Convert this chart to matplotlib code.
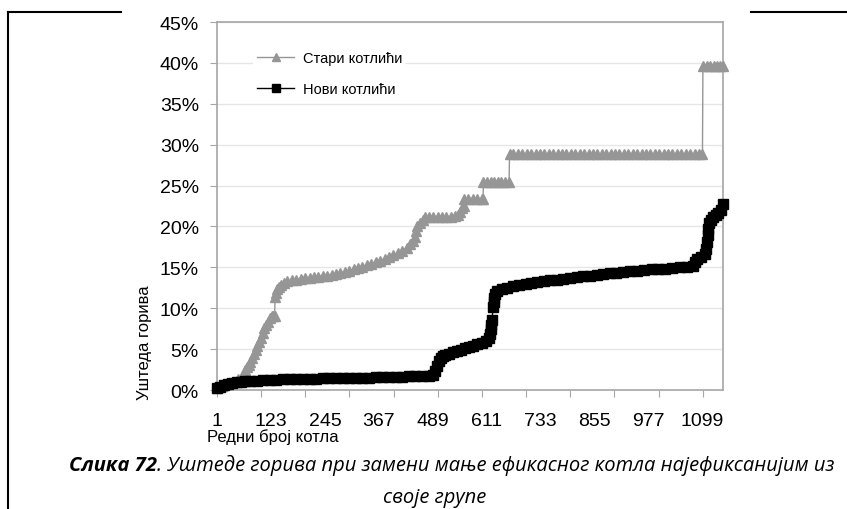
import matplotlib
matplotlib.use("Agg")
import matplotlib.pyplot as plt
from matplotlib.lines import Line2D

W, H = 847, 510

# Стари котлићи: редни број котла и уштеда (%)
old_idx = [1, 12, 24, 36, 48, 56, 61, 64, 68, 72, 76, 80, 84, 88, 92, 96, 100, 104, 108, 112,
           116, 120, 124, 128, 131, 132, 134, 137, 141, 146, 152, 160, 170, 180, 190, 200, 210,
           220, 230, 240, 250, 260, 270, 280, 290, 300, 310, 320, 330, 340, 350, 360, 370, 380,
           390, 400, 410, 420, 430, 438, 444, 448, 451, 454, 460, 466, 472, 480, 490, 500, 510,
           520, 530, 540, 546, 551, 556, 559, 560, 570, 580, 590, 600, 603, 604, 612, 620, 628,
           636, 644, 652, 662, 663, 672, 682, 692, 702, 712, 722, 732, 742, 752, 762, 772, 782,
           792, 802, 812, 822, 832, 842, 852, 862, 872, 882, 892, 902, 912, 922, 932, 942, 952,
           962, 972, 982, 992, 1002, 1012, 1022, 1032, 1042, 1052, 1062, 1072, 1082, 1092, 1100,
           1101, 1110, 1118, 1126, 1134, 1140, 1146]
old_val = [0.3, 0.5, 0.8, 1.0, 1.3, 1.6, 2.0, 2.4, 2.8, 3.0, 3.4, 3.9, 4.4, 4.9, 5.4, 5.9, 6.4,
           7.0, 7.6, 7.9, 8.3, 8.8, 9.0, 9.0, 9.0, 11.4, 11.9, 12.3, 12.6, 12.9, 13.1, 13.3, 13.4,
           13.5, 13.6, 13.7, 13.75, 13.8, 13.85, 13.9, 14.0, 14.1, 14.2, 14.3, 14.45, 14.6, 14.75,
           14.9, 15.05, 15.25, 15.45, 15.6, 15.8, 16.05, 16.3, 16.55, 16.8, 17.05, 17.4, 17.8,
           18.2, 18.7, 19.5, 20.0, 20.4, 20.8, 21.1, 21.2, 21.2, 21.2, 21.2, 21.2, 21.2, 21.25,
           21.4, 21.8, 22.2, 22.5, 23.3, 23.3, 23.3, 23.3, 23.3, 23.3, 25.4, 25.4, 25.4, 25.4,
           25.4, 25.4, 25.4, 25.4, 28.8, 28.8, 28.8, 28.8, 28.8, 28.8, 28.8, 28.8, 28.8, 28.8,
           28.8, 28.8, 28.8, 28.8, 28.8, 28.8, 28.8, 28.8, 28.8, 28.8, 28.8, 28.8, 28.8, 28.8,
           28.8, 28.8, 28.8, 28.8, 28.8, 28.8, 28.8, 28.8, 28.8, 28.8, 28.8, 28.8, 28.8, 28.8,
           28.8, 28.8, 28.8, 28.8, 28.8, 28.8, 28.8, 39.6, 39.6, 39.6, 39.6, 39.6, 39.6, 39.6]

# Нови котлићи
new_idx = [1, 8, 16, 25, 35, 45, 55, 65, 75, 90, 105, 120, 135, 150, 165, 180, 195, 210, 225,
           240, 255, 270, 285, 300, 315, 330, 345, 360, 375, 390, 405, 420, 435, 450, 465, 480,
           490, 495, 499, 503, 507, 512, 518, 526, 535, 544, 553, 562, 571, 580, 590, 600, 610,
           616, 619, 621, 622, 623, 626, 627, 628, 630, 635, 645, 658, 671, 685, 700, 712, 725,
           740, 755, 770, 785, 800, 815, 830, 845, 860, 875, 890, 905, 920, 935, 952, 968, 985,
           1000, 1015, 1030, 1049, 1065, 1079, 1084, 1088, 1097, 1106, 1108, 1110, 1112, 1113,
           1115, 1119, 1124, 1130, 1136, 1141, 1146]
new_val = [0.2, 0.4, 0.6, 0.75, 0.85, 0.95, 1.0, 1.05, 1.1, 1.15, 1.2, 1.25, 1.28, 1.3, 1.32,
           1.34, 1.36, 1.38, 1.4, 1.41, 1.42, 1.43, 1.44, 1.45, 1.47, 1.5, 1.52, 1.55, 1.57, 1.6,
           1.62, 1.65, 1.67, 1.7, 1.73, 1.76, 1.85, 2.3, 2.9, 3.5, 3.9, 4.1, 4.3, 4.45, 4.6, 4.8,
           4.95, 5.1, 5.25, 5.4, 5.6, 5.75, 5.95, 6.3, 6.8, 7.4, 7.9, 8.5, 10.1, 10.7, 11.3, 11.8,
           12.1, 12.3, 12.5, 12.7, 12.85, 13.0, 13.1, 13.2, 13.3, 13.4, 13.5, 13.6, 13.7, 13.8,
           13.9, 14.0, 14.1, 14.2, 14.3, 14.35, 14.4, 14.5, 14.6, 14.7, 14.75, 14.8, 14.85, 14.9,
           15.0, 15.1, 15.2, 15.6, 16.0, 16.3, 16.6, 17.3, 18.1, 19.0, 19.7, 20.4, 20.8, 21.1,
           21.4, 21.7, 22.0, 22.7]

n_boilers = 1146
x_labels = [1, 123, 245, 367, 489, 611, 733, 855, 977, 1099]
x_marks = [0.5, 100.5, 200.5, 300.5, 400.5, 500.5, 600.5, 700.5, 800.5, 900.5, 1000.5, 1100.5]
y_ticks = [0, 5, 10, 15, 20, 25, 30, 35, 40, 45]

GRAY = "#969696"
AXIS = "#a6a6a6"
GRID = "#e6e6e6"

plt.rcParams["font.family"] = ["Liberation Sans", "DejaVu Sans"]

fig = plt.figure(figsize=(W / 100, H / 100), dpi=100)
ax = fig.add_axes([217 / W, 1 - 391 / H, (723 - 217) / W, (391 - 23) / H])

ax.plot(old_idx, old_val, color=GRAY, lw=1, marker="^", ms=7.5, mfc=GRAY, mec=GRAY,
        label="Стари котлићи", zorder=3, clip_on=False)
ax.plot(new_idx, new_val, color="black", lw=1, marker="s", ms=6.5, mfc="black", mec="black",
        label="Нови котлићи", zorder=4, clip_on=False)

ax.set_xlim(0.5, n_boilers + 0.5)
ax.set_ylim(0, 45)
ax.set_xticks(x_labels)
ax.set_xticklabels([str(v) for v in x_labels])
ax.set_xticks(x_marks, minor=True)
ax.tick_params(axis="x", which="major", length=0, pad=16, labelsize=14)
ax.tick_params(axis="x", which="minor", length=5, width=0.8, color=AXIS, direction="out")
ax.set_yticks(y_ticks)
ax.set_yticklabels([f"{v}%" for v in y_ticks])
ax.tick_params(axis="y", length=5, width=0.8, color=AXIS, direction="out", pad=8, labelsize=14)
ax.yaxis.grid(True, color=GRID, lw=1)
ax.set_axisbelow(True)
for sp in ax.spines.values():
    sp.set_color(AXIS)
    sp.set_linewidth(1.2)

leg = ax.legend(loc="upper left", bbox_to_anchor=(253 / W, 1 - 48 / H),
                bbox_transform=fig.transFigure, frameon=True, fancybox=False,
                edgecolor="none", facecolor="white", framealpha=1, fontsize=10.5,
                handlelength=2.5, handletextpad=0.6, labelspacing=1.15, borderpad=0.3,
                borderaxespad=0, markerscale=0.85)

fig.text(145 / W, 1 - 343 / H, "Уштеда горива", rotation=90, ha="center", va="center",
         fontsize=12)
fig.text(207 / W, 1 - 437 / H, "Редни број котла", ha="left", va="center", fontsize=12)

# caption: fit first line to the reference width
cap_font = ["Open Sans", "DejaVu Sans"]
renderer = fig.canvas.get_renderer()
t1 = fig.text(0, 1 - 471 / H, "Слика 72", fontsize=15, fontweight="bold",
              fontstyle="italic", family=cap_font, va="baseline")
t2 = fig.text(0, 1 - 471 / H, ". Уштеде горива при замени мање ефикасног котла најефиксанијим из",
              fontsize=15, fontstyle="italic", family=cap_font, va="baseline")
w_full = t1.get_window_extent(renderer).width + t2.get_window_extent(renderer).width
cap_fs = 15 * 765 / w_full
t1.set_fontsize(cap_fs)
t2.set_fontsize(cap_fs)
w1 = t1.get_window_extent(renderer).width
w2 = t2.get_window_extent(renderer).width
left = 452 - (w1 + w2) / 2
t1.set_x(left / W)
t2.set_x((left + w1) / W)
fig.text(435 / W, 1 - 503 / H, "своје групе", fontsize=cap_fs, fontstyle="italic",
         family=cap_font, va="baseline", ha="center")

# page frame
fig.add_artist(Line2D([8 / W, 8 / W], [0, 1 - 13 / H], color="black", lw=1.5,
                      transform=fig.transFigure))
fig.add_artist(Line2D([8 / W, 121 / W], [1 - 13 / H, 1 - 13 / H], color="black", lw=1.5,
                      transform=fig.transFigure))
fig.add_artist(Line2D([751 / W, 1], [1 - 13 / H, 1 - 13 / H], color="black", lw=1.5,
                      transform=fig.transFigure))

fig.savefig("out.png", dpi=100)
